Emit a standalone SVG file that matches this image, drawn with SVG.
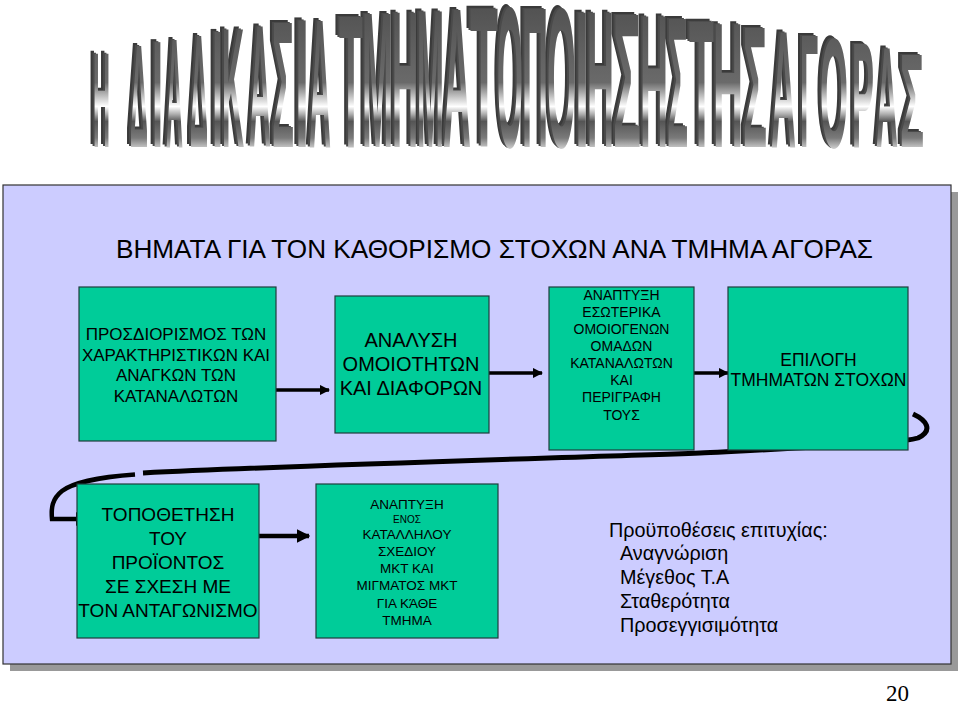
<svg xmlns="http://www.w3.org/2000/svg" xmlns:xlink="http://www.w3.org/1999/xlink" width="960" height="707" viewBox="0 0 960 707">
<style>
.box{fill:#00CC99;stroke:#1f3d3d;stroke-width:1.2}
.t{font-family:"Liberation Sans",Arial,sans-serif;fill:#000;text-anchor:middle}
.wa{font-family:"Liberation Sans",Arial,sans-serif;font-weight:bold}
.conn{fill:none;stroke:#000;stroke-linecap:butt}
</style>
<defs>
<linearGradient id="wag" gradientUnits="userSpaceOnUse" x1="0" y1="0" x2="0" y2="150">
<stop offset="0" stop-color="#505050"/>
<stop offset="0.55" stop-color="#6a6a6a"/>
<stop offset="0.65" stop-color="#c8c8c8"/>
<stop offset="0.71" stop-color="#ffffff"/>
<stop offset="0.76" stop-color="#b0b0b0"/>
<stop offset="0.81" stop-color="#555555"/>
<stop offset="0.92" stop-color="#7a7a7a"/>
<stop offset="1" stop-color="#d8d8d8"/>
</linearGradient>
<marker id="ah" viewBox="0 0 10 10" refX="9" refY="5" markerWidth="3" markerHeight="3" orient="auto" markerUnits="strokeWidth">
<path d="M0,0 L10,5 L0,10 Z" fill="#000"/>
</marker>
<g id="wordart" class="wa">
<text x="93" y="147" font-size="135.5" textLength="17" lengthAdjust="spacingAndGlyphs">Η</text>
<text x="130" y="147" font-size="146.6" textLength="18" lengthAdjust="spacingAndGlyphs">Δ</text>
<text x="152" y="147" font-size="152.2" textLength="11" lengthAdjust="spacingAndGlyphs">Ι</text>
<text x="166" y="147" font-size="156.4" textLength="17" lengthAdjust="spacingAndGlyphs">Α</text>
<text x="190" y="147" font-size="160.6" textLength="18" lengthAdjust="spacingAndGlyphs">Δ</text>
<text x="212" y="147" font-size="166.2" textLength="11" lengthAdjust="spacingAndGlyphs">Ι</text>
<text x="222" y="147" font-size="170.4" textLength="22" lengthAdjust="spacingAndGlyphs">Κ</text>
<text x="249" y="147" font-size="174.6" textLength="22" lengthAdjust="spacingAndGlyphs">Α</text>
<text x="272" y="147" font-size="180.2" textLength="22" lengthAdjust="spacingAndGlyphs">Σ</text>
<text x="295" y="147" font-size="183" textLength="14" lengthAdjust="spacingAndGlyphs">Ι</text>
<text x="309" y="147" font-size="184.4" textLength="22" lengthAdjust="spacingAndGlyphs">Α</text>
<text x="339" y="147" font-size="188.5" textLength="24" lengthAdjust="spacingAndGlyphs">Τ</text>
<text x="362" y="147" font-size="192.7" textLength="31" lengthAdjust="spacingAndGlyphs">Μ</text>
<text x="392" y="147" font-size="195.5" textLength="26" lengthAdjust="spacingAndGlyphs">Η</text>
<text x="417" y="147" font-size="197" textLength="27" lengthAdjust="spacingAndGlyphs">Μ</text>
<text x="443" y="147" font-size="198.3" textLength="28" lengthAdjust="spacingAndGlyphs">Α</text>
<text x="470" y="147" font-size="199.7" textLength="28" lengthAdjust="spacingAndGlyphs">Τ</text>
<text x="497" y="147" font-size="201.1" textLength="26" lengthAdjust="spacingAndGlyphs">Ο</text>
<text x="522" y="147" font-size="199.7" textLength="26" lengthAdjust="spacingAndGlyphs">Π</text>
<text x="547" y="147" font-size="198.3" textLength="29" lengthAdjust="spacingAndGlyphs">Ο</text>
<text x="575" y="147" font-size="195.5" textLength="14" lengthAdjust="spacingAndGlyphs">Ι</text>
<text x="587" y="147" font-size="194.1" textLength="27" lengthAdjust="spacingAndGlyphs">Η</text>
<text x="613" y="147" font-size="191.3" textLength="28" lengthAdjust="spacingAndGlyphs">Σ</text>
<text x="640" y="147" font-size="188.5" textLength="28" lengthAdjust="spacingAndGlyphs">Η</text>
<text x="667" y="147" font-size="185.8" textLength="21" lengthAdjust="spacingAndGlyphs">Σ</text>
<text x="689" y="147" font-size="181.6" textLength="25" lengthAdjust="spacingAndGlyphs">Τ</text>
<text x="713" y="147" font-size="177.4" textLength="30" lengthAdjust="spacingAndGlyphs">Η</text>
<text x="743" y="147" font-size="173.2" textLength="24" lengthAdjust="spacingAndGlyphs">Σ</text>
<text x="771" y="147" font-size="167.6" textLength="25" lengthAdjust="spacingAndGlyphs">Α</text>
<text x="800" y="147" font-size="160.6" textLength="18" lengthAdjust="spacingAndGlyphs">Γ</text>
<text x="820" y="147" font-size="156.4" textLength="28" lengthAdjust="spacingAndGlyphs">Ο</text>
<text x="852" y="147" font-size="149.4" textLength="22" lengthAdjust="spacingAndGlyphs">Ρ</text>
<text x="876" y="147" font-size="142.5" textLength="22" lengthAdjust="spacingAndGlyphs">Α</text>
<text x="900" y="147" font-size="132.7" textLength="24" lengthAdjust="spacingAndGlyphs">Σ</text>
</g>
</defs>

<rect width="960" height="707" fill="#ffffff"/>

<g id="title">
<use xlink:href="#wordart" transform="translate(-4,-3)" fill="#3a3a3a"/>
<use xlink:href="#wordart" transform="translate(-2,-1.5)" fill="#4a4a4a"/>
<use xlink:href="#wordart" fill="url(#wag)"/>
</g>

<g id="panel">
<rect x="10" y="192" width="948" height="479" fill="#999999"/>
<rect x="3" y="185" width="948" height="479" fill="#CCCCFF" stroke="#333333" stroke-width="1.2"/>
<text class="t" x="116" y="258" font-size="26" textLength="757" lengthAdjust="spacingAndGlyphs" style="text-anchor:start">ΒΗΜΑΤΑ ΓΙΑ ΤΟΝ ΚΑΘΟΡΙΣΜΟ ΣΤΟΧΩΝ ΑΝΑ ΤΜΗΜΑ ΑΓΟΡΑΣ</text>
</g>

<g id="connectors">
<line class="conn" x1="276" y1="390" x2="329" y2="390" stroke-width="3.5" marker-end="url(#ah)"/>
<line class="conn" x1="489" y1="373" x2="542" y2="373" stroke-width="3.5" marker-end="url(#ah)"/>
<line class="conn" x1="694" y1="373" x2="728" y2="373" stroke-width="3.5" marker-end="url(#ah)"/>
<line class="conn" x1="259" y1="536" x2="309" y2="536" stroke-width="4.5" marker-end="url(#ah)"/>
<path class="conn" d="M913,414 C926,420 934,430 918,438 C900,444 760,450 700,453 C560,458 300,465 143,473" stroke-width="5"/>
<path class="conn" d="M135,474.5 C100,477 72,483 62,491 C52,499 51,508 52,519 L78,519" stroke-width="4.5"/>
<path d="M76,512 L87,519 L76,526 Z" fill="#000"/>
</g>

<g id="box1">
<rect class="box" x="79" y="287" width="197" height="154"/>
<text class="t" font-size="17"><tspan x="176" y="340">ΠΡΟΣΔΙΟΡΙΣΜΟΣ ΤΩΝ</tspan><tspan x="176" y="360.5">ΧΑΡΑΚΤΗΡΙΣΤΙΚΩΝ ΚΑΙ</tspan><tspan x="176" y="381">ΑΝΑΓΚΩΝ ΤΩΝ</tspan><tspan x="176" y="401.5">ΚΑΤΑΝΑΛΩΤΩΝ</tspan></text>
</g>

<g id="box2">
<rect class="box" x="335" y="296" width="154" height="137"/>
<text class="t" font-size="20"><tspan x="411" y="347">ΑΝΑΛΥΣΗ</tspan><tspan x="411" y="371">ΟΜΟΙΟΤΗΤΩΝ</tspan><tspan x="411" y="395">ΚΑΙ ΔΙΑΦΟΡΩΝ</tspan></text>
</g>

<g id="box3">
<rect class="box" x="549" y="287" width="145" height="163"/>
<text class="t" font-size="14"><tspan x="621.5" y="299.5">ΑΝΑΠΤΥΞΗ</tspan><tspan x="621.5" y="316.5">ΕΣΩΤΕΡΙΚΑ</tspan><tspan x="621.5" y="333.5">ΟΜΟΙΟΓΕΝΩΝ</tspan><tspan x="621.5" y="351">ΟΜΑΔΩΝ</tspan><tspan x="621.5" y="368">ΚΑΤΑΝΑΛΩΤΩΝ</tspan><tspan x="621.5" y="385">ΚΑΙ</tspan><tspan x="621.5" y="402">ΠΕΡΙΓΡΑΦΗ</tspan><tspan x="621.5" y="419.5">ΤΟΥΣ</tspan></text>
</g>

<g id="box4">
<rect class="box" x="728" y="287" width="180" height="163"/>
<text class="t" font-size="17.5"><tspan x="818.5" y="365.5">ΕΠΙΛΟΓΗ</tspan><tspan x="818.5" y="385.5">ΤΜΗΜΑΤΩΝ ΣΤΟΧΩΝ</tspan></text>
</g>

<g id="box5">
<rect class="box" x="77" y="484" width="182" height="154"/>
<text class="t" font-size="19"><tspan x="168" y="521">ΤΟΠΟΘΕΤΗΣΗ</tspan><tspan x="168" y="545">ΤΟΥ</tspan><tspan x="168" y="569">ΠΡΟΪΟΝΤΟΣ</tspan><tspan x="168" y="593">ΣΕ ΣΧΕΣΗ ΜΕ</tspan><tspan x="168" y="617">ΤΟΝ ΑΝΤΑΓΩΝΙΣΜΟ</tspan></text>
</g>

<g id="box6">
<rect class="box" x="316" y="484" width="182" height="154"/>
<text class="t" font-size="13.5"><tspan x="407" y="509">ΑΝΑΠΤΥΞΗ</tspan><tspan x="407" y="523" font-size="10">ΕΝΟΣ</tspan><tspan x="407" y="539">ΚΑΤΑΛΛΗΛΟΥ</tspan><tspan x="407" y="556">ΣΧΕΔΙΟΥ</tspan><tspan x="407" y="573">ΜΚΤ ΚΑΙ</tspan><tspan x="407" y="590">ΜΙΓΜΑΤΟΣ ΜΚΤ</tspan><tspan x="407" y="608">ΓΙΑ ΚΆΘΕ</tspan><tspan x="407" y="625">ΤΜΗΜΑ</tspan></text>
</g>

<g id="conditions">
<text class="t" font-size="19.8" style="text-anchor:start"><tspan x="609" y="537">Προϋποθέσεις επιτυχίας:</tspan><tspan x="620" y="560">Αναγνώριση</tspan><tspan x="620" y="584">Μέγεθος Τ.Α</tspan><tspan x="620" y="608">Σταθερότητα</tspan><tspan x="620" y="632">Προσεγγισιμότητα</tspan></text>
</g>

<g id="pagenum">
<text x="886" y="701" font-family="'Liberation Serif','Times New Roman',serif" font-size="23" fill="#000">20</text>
</g>
</svg>
